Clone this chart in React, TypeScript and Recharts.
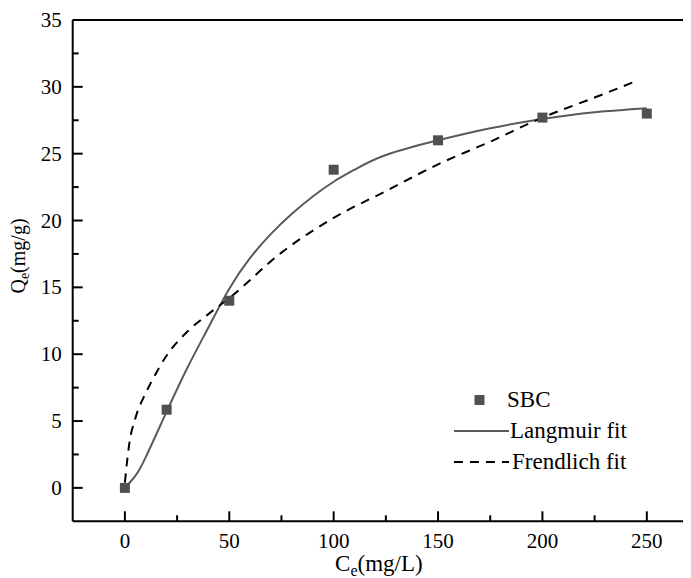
import React from "react";
import {
  ComposedChart,
  Line,
  Scatter,
  XAxis,
  YAxis,
  ReferenceLine,
} from "recharts";

// measured adsorption data (SBC)
const ceValues = [0, 20, 50, 100, 150, 200, 250];
const qeValues = [0, 5.85, 14.0, 23.8, 26.0, 27.7, 28.0];

// Langmuir fit curve
const langmuirCe = [0, 5, 10, 20, 30, 40, 50, 60, 70, 80, 90, 100, 110, 125, 150, 175, 200, 225, 250];
const langmuirQe = [0, 0.9, 2.3, 5.7, 9.0, 12.0, 14.9, 17.2, 19.0, 20.5, 21.8, 22.9, 23.8, 24.9, 26.0, 26.9, 27.6, 28.1, 28.4];

// Freundlich fit curve
const freundCe = [0, 2, 5, 10, 15, 20, 30, 40, 50, 75, 100, 125, 150, 175, 200, 225, 246];
const freundQe = [0.4, 3.2, 5.2, 7.1, 8.6, 9.9, 11.7, 13.0, 14.2, 17.6, 20.2, 22.2, 24.2, 25.9, 27.7, 29.2, 30.5];

const xTicks = [0, 25, 50, 75, 100, 125, 150, 175, 200, 225, 250];
const yTicks = [0, 2.5, 5, 7.5, 10, 12.5, 15, 17.5, 20, 22.5, 25, 27.5, 30, 32.5, 35];

const FONT = "Liberation Serif, DejaVu Serif, serif";
const MARKER = "#505050";
const LANGMUIR = "#5a5a5a";

const points = ceValues.map((x, i) => ({ x, y: qeValues[i] }));
const langmuir = langmuirCe.map((x, i) => ({ x, y: langmuirQe[i] }));
const freund = freundCe.map((x, i) => ({ x, y: freundQe[i] }));

const XTick = ({ x, y, payload }: any) => {
  const major = payload.value % 50 === 0;
  return (
    <g>
      <line x1={x} x2={x} y1={y} y2={y - (major ? 10 : 6)} stroke="#000" strokeWidth={2} />
      {major && (
        <text x={x} y={y + 27} textAnchor="middle" style={{ fontSize: 21, fontFamily: FONT }} fill="#000">
          {payload.value}
        </text>
      )}
    </g>
  );
};

const YTick = ({ x, y, payload }: any) => {
  const major = payload.value % 5 === 0;
  return (
    <g>
      <line x1={x} x2={x + (major ? 10 : 6)} y1={y} y2={y} stroke="#000" strokeWidth={2} />
      {major && (
        <text x={x - 11} y={y + 7} textAnchor="end" style={{ fontSize: 21, fontFamily: FONT }} fill="#000">
          {payload.value}
        </text>
      )}
    </g>
  );
};

const YTitle = ({ viewBox }: any) => {
  const cx = viewBox.x + 12.5;
  const cy = 248;
  return (
    <text
      x={cx}
      y={cy}
      transform={`rotate(-90, ${cx}, ${cy})`}
      textAnchor="middle"
      style={{ fontSize: 20, fontFamily: FONT }}
      fill="#000"
    >
      Q<tspan dy={4} style={{ fontSize: 14 }}>e</tspan>
      <tspan dy={-4}>(mg/g)</tspan>
    </text>
  );
};

const XTitle = ({ viewBox }: any) => {
  const cx = viewBox.x + viewBox.width / 2 - 7;
  return (
    <text x={cx} y={563} textAnchor="middle" style={{ fontSize: 23, fontFamily: FONT }} fill="#000">
      C<tspan dy={5} style={{ fontSize: 16 }}>e</tspan>
      <tspan dy={-5}>(mg/L)</tspan>
    </text>
  );
};

const SquareDot = (props: any) => (
  <rect x={props.cx - 5} y={props.cy - 5} width={10} height={10} fill={MARKER} />
);

const LegendBox = () => {
  const row = { display: "flex", alignItems: "center", height: 31 } as const;
  const text = { fontFamily: FONT, fontSize: 23, color: "#000", lineHeight: "23px" };
  return (
    <div style={{ position: "absolute", left: 445, top: 376 }}>
      <div style={row}>
        <svg width={54} height={20}>
          <rect x={21.5} y={5} width={10} height={10} fill={MARKER} />
        </svg>
        <span style={text}>SBC</span>
      </div>
      <div style={row}>
        <svg width={57} height={20}>
          <line x1={1} x2={56} y1={10} y2={10} stroke={LANGMUIR} strokeWidth={2} />
        </svg>
        <span style={text}>Langmuir fit</span>
      </div>
      <div style={row}>
        <svg width={59} height={20}>
          <line x1={1} x2={56} y1={10} y2={10} stroke="#000" strokeWidth={2} strokeDasharray="9 7" />
        </svg>
        <span style={text}>Frendlich fit</span>
      </div>
    </div>
  );
};

export default function App() {
  return (
    <div style={{ position: "relative", width: 683, height: 570, overflow: "hidden" }}>
      <ComposedChart
        width={720}
        height={570}
        margin={{ top: 12, right: 29, left: 4.7, bottom: 16.7 }}
      >
        <XAxis
          type="number"
          dataKey="x"
          domain={[-25, 275]}
          ticks={xTicks}
          allowDataOverflow
          height={40}
          tickSize={0}
          tickMargin={0}
          tickLine={false}
          tick={<XTick />}
          axisLine={{ stroke: "#000", strokeWidth: 2 }}
          label={<XTitle />}
        />
        <YAxis
          type="number"
          dataKey="y"
          domain={[-2.5, 35]}
          ticks={yTicks}
          allowDataOverflow
          width={60}
          tickSize={0}
          tickMargin={0}
          tickLine={false}
          tick={<YTick />}
          axisLine={{ stroke: "#000", strokeWidth: 2 }}
          label={<YTitle />}
        />
        <ReferenceLine y={35} stroke="#000" strokeWidth={2} />
        <Line
          data={langmuir}
          dataKey="y"
          type="natural"
          stroke={LANGMUIR}
          strokeWidth={2}
          dot={false}
          activeDot={false}
          isAnimationActive={false}
        />
        <Line
          data={freund}
          dataKey="y"
          type="monotone"
          stroke="#000"
          strokeWidth={2}
          strokeDasharray="9 7"
          dot={false}
          activeDot={false}
          isAnimationActive={false}
        />
        <Scatter
          data={points}
          dataKey="y"
          fill={MARKER}
          shape={<SquareDot />}
          isAnimationActive={false}
        />
      </ComposedChart>
      <LegendBox />
    </div>
  );
}
